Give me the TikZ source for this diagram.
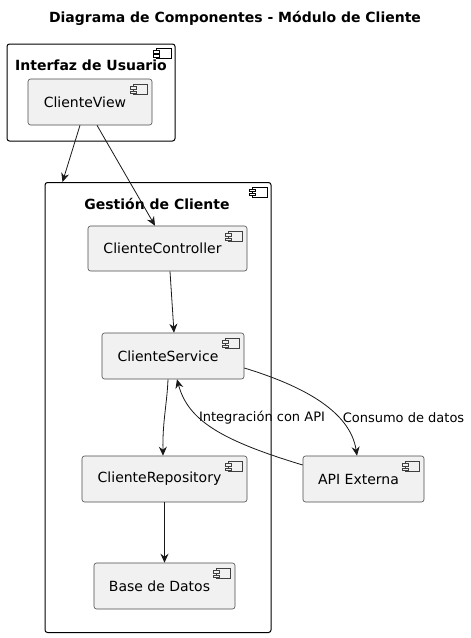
\documentclass[tikz,border=0pt]{standalone}
\usepackage{fontspec}
\setmainfont{DejaVu Sans}
\usetikzlibrary{arrows.meta,calc}
\definecolor{compfill}{HTML}{F1F1F1}
\newcommand\cicon[1]{%
  \begin{scope}[shift={(#1.north east)}]
    \draw[draw=black!75, line width=0.5pt, fill=compfill] (-19,6) rectangle (-5,16);
    \draw[draw=black!75, line width=0.5pt, fill=compfill] (-22,8) rectangle (-16,10.5);
    \draw[draw=black!75, line width=0.5pt, fill=compfill] (-22,12.5) rectangle (-16,15);
  \end{scope}}
\newcommand\picon[1]{%
  \begin{scope}[shift={(#1.north east)}]
    \draw[draw=black, line width=0.7pt, fill=white] (-19,5) rectangle (-4,15);
    \draw[draw=black, line width=0.7pt, fill=white] (-22,7) rectangle (-16,9.5);
    \draw[draw=black, line width=0.7pt, fill=white] (-22,11) rectangle (-16,13.5);
  \end{scope}}
\newcommand\ctext[1]{\raisebox{-6pt}{\hspace*{-10pt}#1}}
\begin{document}
\begin{tikzpicture}[x=1pt,y=-1pt,
  comp/.style={draw=black!70, line width=0.6pt, fill=compfill, rounded corners=2.5pt, inner sep=0pt, font=\fontsize{14}{16}\selectfont},
  pkg/.style={draw=black, line width=1pt, rounded corners=2.5pt, inner sep=0pt},
  pkgtitle/.style={font=\fontsize{14}{16}\selectfont\bfseries, inner sep=0pt},
  arr/.style={-{Stealth[length=9pt,width=8pt,inset=3pt]}, line width=0.8pt, draw=black!90},
  lbl/.style={font=\fontsize{13}{15}\selectfont, inner sep=0pt}
]
\useasboundingbox[fill=white] (0,0) rectangle (471,638);

\node[font=\fontsize{14}{16}\selectfont\bfseries, inner sep=0pt] (title) at (235,18) {Diagrama de Componentes - Módulo de Cliente};

% packages
\node[pkg, minimum width=168pt, minimum height=97pt] (ui) at (91,92.5) {};
\node[pkgtitle] (uititle) at (91,65) {Interfaz de Usuario};
\picon{ui}

\node[pkg, minimum width=226pt, minimum height=450pt] (gestion) at (158,407.5) {};
\node[pkgtitle] (gtitle) at (157,204) {Gestión de Cliente};
\picon{gestion}

% components
\node[comp, minimum width=124pt, minimum height=46pt] (view) at (90,102) {\ctext{ClienteView}};
\node[comp, minimum width=159pt, minimum height=45pt] (ctrl) at (167.5,248.5) {\ctext{ClienteController}};
\node[comp, minimum width=142pt, minimum height=46pt] (serv) at (173,356) {\ctext{ClienteService}};
\node[comp, minimum width=165pt, minimum height=46pt] (repo) at (164.5,479) {\ctext{ClienteRepository}};
\node[comp, minimum width=141pt, minimum height=46pt] (db) at (164.5,586) {\ctext{Base de Datos}};
\node[comp, minimum width=121pt, minimum height=46pt] (api) at (363.5,479) {\ctext{API Externa}};
\foreach \n in {view,ctrl,serv,repo,db,api} {\cicon{\n}}

% connectors
\coordinate (gin) at ($(gestion.north west)+(18,0)$);
\draw[arr] ($(view.south)+(-10,0)$) -- (gin);
\draw[arr] ($(view.south)+(7,0)$) -- ($(ctrl.north)+(-12.5,0)$);
\draw[arr] ($(ctrl.south)+(2.5,0)$) -- ($(serv.north)+(1,0)$);
\draw[arr] ($(serv.south)+(-5,0)$) .. controls ($(serv.south)+(-6,25)$) and ($(repo.north)+(-2,-35)$) .. ($(repo.north)+(-1.5,0)$);
\draw[arr] (repo.south) -- (db.north);
\draw[arr] ($(serv.east)+(0,12)$) .. controls (300,385) and (350,410) .. ($(api.north)+(-6.5,0)$);
\draw[arr] ($(api.west)+(0,-14)$) .. controls (220,440) and (188,420) .. ($(serv.south)+(4,0)$);

\node[lbl] (l1) at (262,418) {Integración con API};
\node[lbl] (l2) at (403.5,418) {Consumo de datos};
\end{tikzpicture}
\end{document}
